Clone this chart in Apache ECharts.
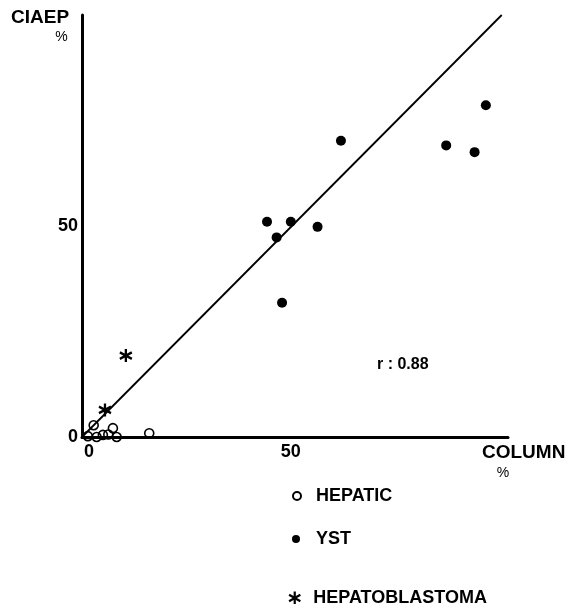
<!DOCTYPE html>
<html>
<head>
<meta charset="utf-8">
<script src="https://cdn.jsdelivr.net/npm/echarts@6/dist/echarts.min.js"></script>
<style>
html,body{margin:0;padding:0;background:#fff;}
#c{width:567px;height:604px;}
</style>
</head>
<body>
<div id="c"></div>
<script>
// ---- data ----
const hepaticX = [1.4, 2.8, 3.5, 5.0, 6.3, 7.4, 8.3, 16.1];
const hepaticY = [0.2, 2.8, 0.0, 0.5, 0.6, 2.1, 0.0, 0.9];
const ystX = [44.3, 50.0, 46.6, 56.4, 47.9, 62.0, 87.2, 94.0, 96.7];
const ystY = [51.0, 51.0, 47.3, 49.8, 31.8, 70.2, 69.1, 67.5, 78.6];
const hbX = [5.5, 10.5];
const hbY = [6.4, 19.3];
const fitX = [0, 100.5];
const fitY = [0, 100];
const xTicks = [0, 50];
const yTicks = [0, 50];
const rText = 'r : 0.88';

const FONT = '"Liberation Sans", Arial, sans-serif';
const zip = (a, b) => a.map((v, i) => [v, b[i]]);
const asterisk = 'path://M0,-10L0,10M-8.66,-5L8.66,5M-8.66,5L8.66,-5';

const chart = echarts.init(document.getElementById('c'), null, {renderer: 'canvas'});
const legendText = {fontSize: 18, fontWeight: 'bold', fontFamily: FONT, color: '#000', lineHeight: 18};
const tickFont = {color: '#000', fontSize: 18, fontWeight: 'bold', fontFamily: FONT};
chart.setOption({
  animation: false,
  backgroundColor: '#fff',
  grid: {left: 82, right: 59, top: 15, bottom: 167, containLabel: false},
  xAxis: {
    type: 'value', min: 0, max: 102, interval: 50,
    splitLine: {show: false},
    axisTick: {show: false},
    axisLine: {show: true, onZero: false, lineStyle: {color: '#000', width: 3}},
    axisLabel: Object.assign({
      margin: 6,
      formatter: v => v === 0 ? '{z|0}' : (xTicks.includes(v) ? String(v) : ''),
      rich: {z: Object.assign({padding: [0, 0, 0, 14]}, tickFont)}
    }, tickFont)
  },
  yAxis: {
    type: 'value', min: 0, max: 100, interval: 50,
    splitLine: {show: false},
    axisTick: {show: false},
    axisLine: {show: true, onZero: false, lineStyle: {color: '#000', width: 3}},
    axisLabel: Object.assign({
      margin: 4,
      formatter: v => yTicks.includes(v) ? String(v) : ''
    }, tickFont)
  },
  legend: [
    {data: ['HEPATIC'], left: 292, top: 487, padding: 0, itemWidth: 8, itemHeight: 8,
     textStyle: Object.assign({padding: [0, 0, 0, 10]}, legendText), selectedMode: false},
    {data: ['YST'], left: 292, top: 530, padding: 0, itemWidth: 8, itemHeight: 8,
     textStyle: Object.assign({padding: [0, 0, 0, 11]}, legendText), selectedMode: false},
    {data: ['HEPATOBLASTOMA'], left: 288, top: 589, padding: 0, itemWidth: 13, itemHeight: 13,
     textStyle: Object.assign({padding: [0, 0, 0, 7]}, legendText), selectedMode: false,
     itemStyle: {borderWidth: 2.2}}
  ],
  series: [
    {
      name: 'fit', type: 'line', data: zip(fitX, fitY), symbol: 'none', silent: true,
      lineStyle: {color: '#000', width: 1.8}, clip: false
    },
    {
      name: 'HEPATIC', type: 'scatter', data: zip(hepaticX, hepaticY), symbol: 'circle', symbolSize: 9,
      clip: false,
      itemStyle: {color: 'rgba(255,255,255,0)', borderColor: '#000', borderWidth: 1.6, opacity: 1}
    },
    {
      name: 'YST', type: 'scatter', data: zip(ystX, ystY), symbol: 'circle', symbolSize: 10,
      clip: false,
      itemStyle: {color: '#000', opacity: 1}
    },
    {
      name: 'HEPATOBLASTOMA', type: 'scatter', data: zip(hbX, hbY), symbol: asterisk, symbolSize: [12, 13],
      clip: false,
      itemStyle: {color: 'rgba(0,0,0,0)', borderColor: '#000', borderWidth: 2.4, opacity: 1}
    }
  ],
  graphic: [
    {type: 'text', x: 11, y: 18, style: {text: 'CIAEP', font: 'bold 19px ' + FONT, fill: '#000', align: 'left', verticalAlign: 'middle'}},
    {type: 'text', x: 61.5, y: 37, style: {text: '%', font: '14px ' + FONT, fill: '#000', align: 'center', verticalAlign: 'middle'}},
    {type: 'text', x: 482, y: 453, style: {text: 'COLUMN', font: 'bold 19px ' + FONT, fill: '#000', align: 'left', verticalAlign: 'middle'}},
    {type: 'text', x: 503, y: 473, style: {text: '%', font: '14px ' + FONT, fill: '#000', align: 'center', verticalAlign: 'middle'}},
    {type: 'text', x: 377, y: 365, style: {text: rText, font: 'bold 16px ' + FONT, fill: '#000', align: 'left', verticalAlign: 'middle'}}
  ]
});
</script>
</body>
</html>
